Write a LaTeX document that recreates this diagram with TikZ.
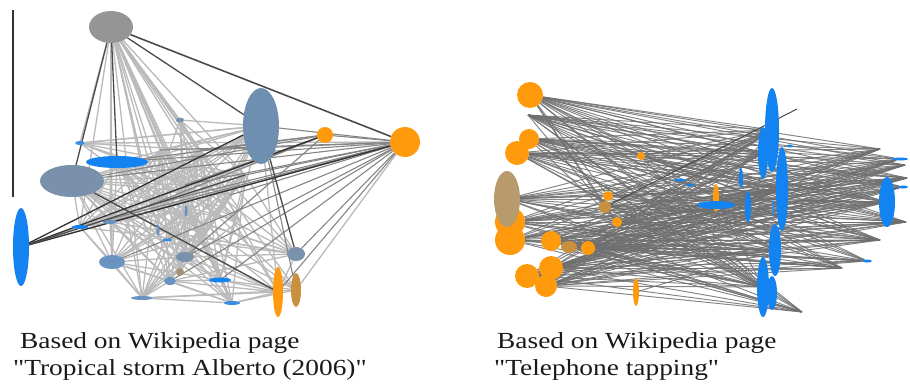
\documentclass[tikz,border=0pt]{standalone}
\usepackage{fontspec}
\setmainfont{Liberation Serif}
\usetikzlibrary{shapes.geometric}
\definecolor{nodegray}{HTML}{959595}
\definecolor{steel}{HTML}{6F8FB1}
\definecolor{steelb}{HTML}{7A91AB}
\definecolor{steelc}{HTML}{6A93C2}
\definecolor{orng}{HTML}{FF9A0D}
\definecolor{blu}{HTML}{1283F0}
\definecolor{bluc}{HTML}{3A8CE0}
\definecolor{tanbig}{HTML}{B89B6C}
\definecolor{tanor}{HTML}{C9913E}
\definecolor{tangray}{HTML}{A09478}
\definecolor{edgelite}{HTML}{BABABA}
\definecolor{edgemid}{HTML}{858585}
\definecolor{edgedark}{HTML}{4A4A4A}
\definecolor{edgeright}{HTML}{6E6E6E}
\definecolor{axisline}{HTML}{333333}
\pgfdeclarelayer{background}
\pgfsetlayers{background,main}
\begin{document}
\begin{tikzpicture}[x=1pt,y=-1pt,
  nd/.style n args={3}{ellipse, inner sep=0pt, outer sep=0pt, draw=none,
    fill=#1, minimum width=#2 pt, minimum height=#3 pt},
  lite/.style={draw=edgelite, line width=1.3pt},
  midedge/.style={draw=edgemid, line width=1.1pt},
  darkedge/.style={draw=edgedark, line width=1.3pt},
  redge/.style={draw=edgeright, line width=0.95pt, opacity=0.85},
  captext/.style={anchor=base west, inner sep=0pt, font=\fontsize{23}{23}\selectfont, text=black!90}]
\useasboundingbox (0,0) rectangle (910,386);

% ---------- left network ----------
\draw[axisline, line width=1.3pt] (13,10) coordinate (ax1) -- (13,197) coordinate (ax2);

\node[nd={nodegray}{44}{32}] (g) at (111,27) {};
\node[nd={steel}{36}{76}] (s1) at (261,126) {};
\node[nd={orng}{16}{16}] (o1) at (325,135) {};
\node[nd={orng}{30}{30}] (o2) at (405,142) {};
\node[nd={blu}{62}{12}] (b1) at (117,162) {};
\node[nd={steelb}{64}{32}] (s2) at (72,181) {};
\node[nd={blu}{16}{78}] (b2) at (21,247) {};
\node[nd={steelc}{26}{14}] (s3) at (112,262) {};
\node[nd={steelb}{18}{10}] (s4) at (185,257) {};
\node[nd={steelb}{18}{14}] (s5) at (296,254) {};
\node[nd={steelc}{12}{8}] (s6) at (170,281) {};
\node[nd={blu}{22}{5}] (b3) at (220,280) {};
\node[nd={steelc}{22}{4}] (s7) at (142,298) {};
\node[nd={bluc}{16}{4}] (s8) at (232,303) {};
\node[nd={orng}{10}{50}] (o3) at (278,292) {};
\node[nd={tanor}{10}{34}] (t1) at (296,290) {};
\node[nd={bluc}{10}{4}] (b4) at (80,143) {};
\node[nd={steelb}{8}{5}] (s9) at (180,120) {};
\node[nd={blu}{16}{4}] (b5) at (80,227) {};
\node[nd={steelc}{14}{4}] (b6) at (110,222) {};
\node[nd={tangray}{8}{8}] (t2) at (180,272) {};
\node[nd={steelc}{3}{12}] (b7) at (186,211) {};
\node[nd={steelc}{3}{12}] (b8) at (158,230) {};
\node[nd={bluc}{10}{3}] (b9) at (167,240) {};
\coordinate (p1) at (200,150);
\coordinate (p2) at (230,195);
\coordinate (p3) at (150,205);
\coordinate (p4) at (245,175);
\coordinate (p5) at (205,235);
\coordinate (p6) at (185,185);
\coordinate (p7) at (160,150);
\coordinate (p8) at (240,220);

\begin{pgfonlayer}{background}
  % fan from the top vertex
  \foreach \t in {b4,s9,s3,s4,s6,b3,s7,s8,o3,t1,b5,b6,t2,p1,p2,p3,p4,p5,p6,p7,p8,b7,b8}
    \draw[lite] (g) -- (\t);
  % dense mesh in the cluster
  \foreach \t in {s2,b1,b4,p3,p6,s3,s4,s6,b3,o3,s7,b5,b6,p2,p5,s9,p7}
    \draw[lite] (s1) -- (\t);
  \foreach \t in {s3,s4,s6,b3,s7,s8,o3,t1,s5,p2,p5,b5,b6,t2,p1,p4,p8,b9}
    \draw[lite] (s2) -- (\t);
  \foreach \t in {s3,s4,s6,b3,s7,s8,o3,t1,s5,p2,p5,b5,t2,p4,p8,b7}
    \draw[lite] (b1) -- (\t);
  \foreach \t in {s1,o2,p1,p4,p6}
    \draw[lite] (b4) -- (\t);
  \foreach \t in {p1,p6,s4,p4,p2}
    \draw[lite] (s9) -- (\t);
  \foreach \a in {b5,b6,s3,s4,s6,b3,s7,s8,t2,b9,b8}
    \foreach \b in {p1,p4,p7,b7}
      \draw[lite] (\a) -- (\b);
  \foreach \a/\b in {s3/s4,s3/s6,s3/s7,s3/b3,s3/s8,s4/s6,s4/b3,s4/s7,s4/s8,s4/o3,s4/s5,
      s6/s7,s6/s8,s6/b3,s6/o3,b3/s8,b3/o3,b3/t1,s7/s8,s7/o3,s7/t1,s8/o3,s8/t1,s5/o3,s5/s6,
      b5/s3,b5/s7,b6/s3,b6/s6,b6/b3,p1/s5,p4/s5,p2/s7,p5/s3,p6/s8,p7/s5,p3/s5,p8/s7,
      b7/s8,b8/s5,b9/o3,p1/o3,p6/t1,p2/s3,p4/s3,p7/b3,b5/s5,b6/s5,b5/o1,b6/o1,
      p1/p5,p3/p4,p6/p8,p7/p2,p3/p8,p5/p4,b4/p2,b4/p5,s9/p3,s9/p5,b1/p6,s2/p6,
      p7/p8,p1/p3,b8/p4,b9/p4,t2/p2,s6/p2}
    \draw[lite] (\a) -- (\b);
  % edges into the two orange vertices on the right
  \foreach \t in {s2,b1,p1,p4,p6,s3,s6,o3,s5,b5,b6,p3,p2,s1,o1,p7,s4,b3}
    \draw[midedge] (o2) -- (\t);
  \draw[lite] (o2) -- (t1);
  \foreach \t in {s2,b1,p1,p6,p3,s4}
    \draw[midedge] (o1) -- (\t);
  \draw[lite] (b2) -- (b5);
  \draw[lite] (b2) -- (b6);
  \draw[midedge] (s1) -- (t1);
  % heavier edges
  \draw[darkedge] (g) -- (s2);
  \draw[darkedge] (g) -- (b1);
  \draw[darkedge] (g) -- (s1);
  \draw[darkedge, line width=1.6pt] (g) -- (o2);
  \draw[darkedge] (s1) -- (s5);
  \draw[darkedge] (s2) -- (o3);
  \draw[darkedge, draw=black!80] (b2) -- (o1);
  \draw[darkedge, draw=black!80] (b2) -- (o2);
  \draw[darkedge, draw=black!80] (b2) -- (s1);
  \draw[darkedge, draw=black!70] (b2) -- (p4);
\end{pgfonlayer}

% ---------- right network ----------
\node[nd={orng}{26}{26}] (ra) at (530,95) {};
\node[nd={orng}{20}{20}] (rb) at (529,139) {};
\node[nd={orng}{24}{24}] (rc) at (517,153) {};
\node[nd={orng}{30}{30}] (rd) at (510,222) {};
\node[nd={orng}{30}{30}] (re) at (510,240) {};
\node[nd={tanbig}{26}{56}] (rt) at (507,199) {};
\node[nd={orng}{20}{20}] (rf) at (551,241) {};
\node[nd={tanor}{16}{12}] (rg) at (569,247) {};
\node[nd={orng}{14}{14}] (rh) at (588,248) {};
\node[nd={orng}{24}{24}] (ri) at (527,276) {};
\node[nd={orng}{24}{24}] (rj) at (551,268) {};
\node[nd={orng}{22}{22}] (rk) at (546,286) {};
\node[nd={orng}{8}{8}] (rm) at (641,156) {};
\node[nd={orng}{10}{10}] (rn) at (608,196) {};
\node[nd={tanor}{12}{12}] (ro) at (605,207) {};
\node[nd={orng}{10}{10}] (rp) at (617,222) {};
\node[nd={orng}{6}{28}] (rq) at (716,198) {};
\node[nd={blu}{38}{8}] (rr) at (716,205) {};
\node[nd={orng}{6}{28}] (rs) at (636,292) {};
\node[nd={blu}{12}{3}] (ru) at (680,180) {};
\node[nd={blu}{8}{3}] (rv) at (690,185) {};
\node[nd={blu}{14}{84}] (B1) at (772,130) {};
\node[nd={blu}{10}{52}] (B2) at (763,153) {};
\node[nd={blu}{12}{84}] (B3) at (782,189) {};
\node[nd={blu}{12}{52}] (B4) at (775,250) {};
\node[nd={blu}{12}{60}] (B5) at (763,287) {};
\node[nd={blu}{10}{34}] (B6) at (772,293) {};
\node[nd={blu}{16}{50}] (B7) at (887,202) {};
\node[nd={blu}{4}{20}] (B8) at (741,178) {};
\node[nd={blu}{6}{32}] (B9) at (748,207) {};
\node[nd={bluc}{2}{16}] (B10) at (773,208) {};
\node[nd={blu}{16}{3}] (B11) at (900,159) {};
\node[nd={blu}{10}{3}] (B12) at (867,261) {};
\node[nd={blu}{6}{3}] (B13) at (790,146) {};
\node[nd={blu}{10}{3}] (B14) at (903,187) {};
\coordinate (rz) at (528,115);
\coordinate (e1) at (797,109);
\coordinate (e2) at (880,149);
\coordinate (e3) at (905,165);
\coordinate (e4) at (907,178);
\coordinate (e5) at (906,222);
\coordinate (e6) at (880,240);
\coordinate (e8) at (842,268);
\coordinate (e9) at (802,312);

\begin{pgfonlayer}{background}
  \foreach \a in {ra,rz,rb,rc,rt,rd,re,rf,rg,rh,ri,rj,rk}
    \foreach \b in {B1,B2,B3,B4,B5,B7,e2,e3,e4,e5,e6,B12,e8,e9,B11,B14}
      \draw[redge] (\a) -- (\b);
  \foreach \a in {rm,rn,ro,rp,rq}
    \foreach \b in {B1,B3,B5,e4,e5,e6,B7}
      \draw[redge] (\a) -- (\b);
  \foreach \a/\b in {ra/rn,ra/ro,ra/rp,rz/rp,rb/rp,rc/rn,rz/rm,rb/rm,ra/B9,rc/B8,rd/B9,ri/B10}
    \draw[redge] (\a) -- (\b);
  \draw[redge] (rs) -- (B4);
  \draw[draw=edgedark, line width=1pt] (ro) -- (e1);
\end{pgfonlayer}

% ---------- captions ----------
\node[captext] (c1) at (20,348) {\scalebox{1.19}[1]{Based on Wikipedia page}};
\node[captext] (c2) at (13,375) {\scalebox{1.19}[1]{\textquotedbl Tropical storm Alberto (2006)\textquotedbl}};
\node[captext] (c3) at (497,348) {\scalebox{1.19}[1]{Based on Wikipedia page}};
\node[captext] (c4) at (494,375) {\scalebox{1.19}[1]{\textquotedbl Telephone tapping\textquotedbl}};
\end{tikzpicture}
\end{document}
